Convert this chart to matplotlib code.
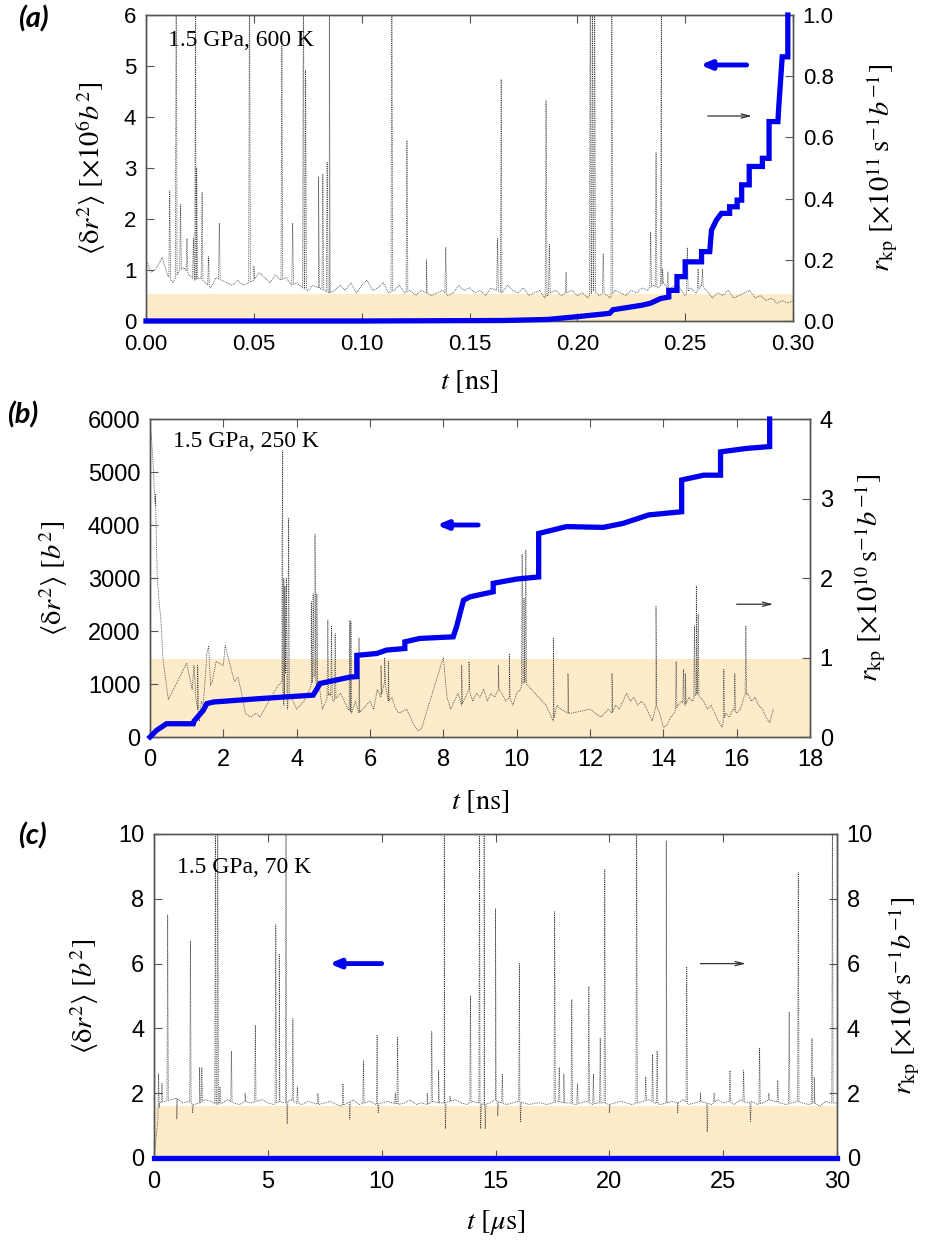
import numpy as np
import matplotlib
matplotlib.use("Agg")
import matplotlib.pyplot as plt

plt.rcParams['font.family'] = ['Liberation Sans', 'DejaVu Sans']
plt.rcParams['mathtext.fontset'] = 'stix'

# ---------------- panel (a): 1.5 GPa, 600 K ----------------
a_base_t = np.arange(0, 0.30001, 0.0025)
a_base = [1.2, 0.95, 1.05, 1.25, 0.9, 0.75, 0.95, 1.05, 0.9, 0.8, 0.85, 0.75, 0.65, 0.85, 0.8, 0.75, 0.7, 0.8, 0.7, 0.75,
          0.8, 0.95, 0.85, 0.75, 0.9, 0.8, 0.85, 0.7, 0.75, 0.65, 0.6, 0.7, 0.65, 0.6, 0.55, 0.6, 0.7, 0.6, 0.75, 0.55,
          0.7, 0.8, 0.6, 0.65, 0.75, 0.55, 0.6, 0.7, 0.55, 0.6, 0.5, 0.6, 0.55, 0.5, 0.55, 0.6, 0.5, 0.55, 0.7, 0.6,
          0.65, 0.55, 0.6, 0.5, 0.65, 0.6, 0.55, 0.7, 0.6, 0.55, 0.65, 0.5, 0.55, 0.6, 0.45, 0.55, 0.6, 0.5, 0.55, 0.6,
          0.5, 0.55, 0.45, 0.6, 0.5, 0.55, 0.45, 0.6, 0.55, 0.5, 0.6, 0.55, 0.65, 0.6, 0.7, 0.65, 0.75, 0.6, 0.7, 0.65,
          0.5, 0.65, 0.55, 0.7, 0.6, 0.45, 0.55, 0.5, 0.6, 0.45, 0.5, 0.55, 0.6, 0.45, 0.5, 0.4, 0.45, 0.35, 0.4, 0.35, 0.4]
a_base = np.array(a_base) / 6.0  # left-axis units -> r_kp units
a_spk_t = [0.011, 0.014, 0.016, 0.019, 0.022, 0.023, 0.0235, 0.026, 0.029, 0.034, 0.048, 0.050, 0.063, 0.068,
           0.073, 0.074, 0.080, 0.082, 0.084, 0.085, 0.114, 0.121, 0.130, 0.139, 0.163, 0.1647, 0.1855, 0.187,
           0.1948, 0.206, 0.207, 0.208, 0.212, 0.216, 0.234, 0.2365, 0.239, 0.2395, 0.242, 0.251, 0.256, 0.258]
a_spk_h = [0.425, 1.2, 0.38, 0.27, 0.27, 1.2, 0.5, 0.42, 0.21, 0.32, 1.2, 0.18, 0.9, 0.32,
           1.2, 0.82, 0.47, 0.48, 0.52, 1.2, 1.2, 0.59, 0.2, 0.24, 0.27, 0.79, 0.72, 0.25,
           0.16, 1.2, 1.2, 1.2, 0.22, 1.2, 0.29, 0.55, 1.2, 0.17, 0.16, 0.24, 0.17, 0.17]
a_blue_t = [0.0, 0.10, 0.166, 0.186, 0.20, 0.215, 0.2165, 0.23, 0.234, 0.2386, 0.2424, 0.2424, 0.2462, 0.2462,
            0.25, 0.25, 0.2576, 0.2576, 0.2614, 0.2622, 0.2645, 0.2668, 0.2706, 0.2706, 0.2741, 0.2741,
            0.2762, 0.2762, 0.2797, 0.2797, 0.2858, 0.2858, 0.2889, 0.2889, 0.293, 0.2934, 0.295, 0.2976, 0.2976]
a_blue = [0.0, 0.0, 0.01, 0.03, 0.085, 0.15, 0.22, 0.31, 0.35, 0.44, 0.47, 0.6, 0.6, 0.87,
          0.87, 1.16, 1.16, 1.36, 1.36, 1.78, 1.98, 2.11, 2.11, 2.24, 2.24, 2.37,
          2.37, 2.67, 2.67, 3.03, 3.03, 3.19, 3.19, 3.91, 3.91, 4.2, 5.18, 5.18, 6.0]

# ---------------- panel (b): 1.5 GPa, 250 K ----------------
b_base_t = [0.0, 0.05, 0.1, 0.12, 0.15, 0.2, 0.25, 0.3, 0.35, 0.5, 1.0, 1.15, 1.2, 1.25, 1.3, 1.35, 1.4, 1.45, 1.5,
            1.55, 1.6, 1.65, 1.7, 1.8, 2.0, 2.05, 2.3, 2.4, 2.5, 2.6, 2.75, 2.9, 3.0, 3.3, 3.5, 3.6, 3.65, 3.7,
            3.75, 3.8, 4.0, 4.2, 4.4, 4.5, 4.55, 4.6, 4.7, 4.8, 4.9, 5.0, 5.1, 5.2, 5.3, 5.4, 5.5, 5.6, 5.7, 5.8,
            6.0, 6.1, 6.2, 6.3, 6.4, 6.5, 6.6, 6.7, 6.8, 7.0, 7.1, 7.2, 7.3, 7.4, 7.5, 8.0, 8.1, 8.2, 8.3, 8.4,
            8.5, 8.6, 8.7, 8.8, 8.9, 9.0, 9.1, 9.2, 9.3, 9.4, 9.5, 9.6, 9.7, 9.8, 9.9, 10.0, 10.1, 10.2, 10.3,
            10.4, 10.5, 10.6, 10.7, 10.8, 10.9, 11.0, 11.1, 11.2, 11.4, 11.5, 12.0, 12.3, 12.5, 12.6, 12.7, 12.8,
            13.0, 13.1, 13.2, 13.3, 13.4, 13.5, 13.6, 13.7, 13.8, 13.9, 14.0, 14.1, 14.2, 14.3, 14.4, 14.5, 14.6,
            14.7, 14.8, 14.9, 15.0, 15.1, 15.2, 15.3, 15.4, 15.5, 15.6, 15.7, 15.8, 15.9, 16.0, 16.1, 16.2, 16.3,
            16.4, 16.5, 16.6, 16.7, 16.8, 16.9, 17.0]
b_base = [4.0, 3.7, 3.3, 3.05, 2.9, 2.0, 1.7, 1.45, 1.0, 0.47, 0.93, 0.6, 0.9, 0.5, 0.35, 0.2, 0.45, 0.4, 0.7,
          1.05, 1.15, 0.65, 0.7, 0.95, 0.9, 1.15, 0.7, 0.75, 0.55, 0.3, 0.25, 0.3, 0.25, 0.5, 0.65, 0.7, 0.4, 0.8,
          0.35, 0.55, 0.35, 0.45, 0.65, 0.8, 0.6, 0.7, 0.35, 0.45, 0.55, 0.45, 0.5, 0.55, 0.45, 0.35, 0.3, 0.45, 0.3, 0.35,
          0.45, 0.35, 0.6, 0.5, 0.7, 0.45, 0.5, 0.35, 0.3, 0.35, 0.25, 0.15, 0.08, 0.1, 0.25, 1.0, 0.5, 0.35, 0.45, 0.55,
          0.4, 0.5, 0.6, 0.45, 0.55, 0.5, 0.6, 0.45, 0.55, 0.5, 0.6, 0.55, 0.45, 0.5, 0.4, 0.55, 0.6, 0.7, 0.65,
          0.6, 0.55, 0.5, 0.45, 0.4, 0.3, 0.2, 0.4, 0.35, 0.3, 0.3, 0.35, 0.25, 0.35, 0.3, 0.4, 0.35,
          0.55, 0.45, 0.5, 0.4, 0.45, 0.4, 0.3, 0.2, 0.4, 0.3, 0.12, 0.15, 0.25, 0.3, 0.4, 0.45, 0.4,
          0.5, 0.45, 0.55, 0.5, 0.45, 0.35, 0.4, 0.3, 0.2, 0.12, 0.3, 0.25, 0.35, 0.3, 0.35, 0.5, 0.55,
          0.45, 0.5, 0.4, 0.35, 0.25, 0.18, 0.35]
b_spk_t = [0.15, 1.2, 1.3, 3.6, 3.62, 3.65, 3.68, 3.72, 3.78, 4.4, 4.45, 4.5, 4.55, 4.85, 4.95, 5.05, 5.45, 5.48,
           5.7, 6.3, 6.4, 6.5, 8.5, 8.7, 9.5, 9.8, 10.15, 10.2, 10.25, 11.0, 11.4, 12.6, 13.8, 14.35, 14.55,
           14.6, 14.85, 14.9, 14.95, 15.65, 15.95, 16.25]
b_spk_h = [3.05, 0.9, 0.9, 2.4, 3.6, 2.0, 1.9, 2.0, 2.75, 1.7, 1.8, 2.55, 1.8, 1.47, 1.4, 1.3, 1.47, 1.45,
           1.25, 0.9, 1.0, 0.95, 0.9, 0.95, 0.9, 1.05, 2.3, 1.75, 2.35, 1.25, 0.8, 0.8, 1.65, 0.95, 0.85,
           0.8, 1.4, 1.9, 1.55, 0.85, 0.8, 1.4]
b_blue_t = [0.0, 0.18, 0.45, 1.18, 1.2, 1.3, 1.45, 1.55, 1.73, 2.9, 4.45, 4.64, 5.45, 5.64, 5.64, 6.18, 6.45,
            6.95, 6.95, 7.36, 8.27, 8.36, 8.55, 8.73, 9.36, 9.36, 10.0, 10.6, 10.6, 11.36, 12.36, 12.9, 13.6,
            14.5, 14.5, 15.1, 15.56, 15.56, 16.27, 16.9, 16.9]
b_blue = [0, 126, 250, 250, 300, 380, 500, 630, 660, 720, 790, 1010, 1130, 1140, 1540, 1575, 1640,
          1670, 1795, 1860, 1890, 2080, 2580, 2645, 2740, 2900, 2980, 3020, 3840, 3970, 3955, 4030, 4190,
          4250, 4850, 4940, 4940, 5380, 5445, 5480, 6000]

# ---------------- panel (c): 1.5 GPa, 70 K ----------------
c_base_t = np.arange(0, 30.001, 0.25)
c_base = [0.0, 1.7, 1.75, 1.8, 1.85, 1.7, 1.75, 1.65, 1.7, 1.8, 1.75, 1.65, 1.7, 1.8, 1.7, 1.65, 1.75, 1.7, 1.75, 1.8,
          1.7, 1.65, 1.75, 1.7, 1.8, 1.7, 1.65, 1.75, 1.7, 1.65, 1.7, 1.75, 1.65, 1.6, 1.7, 1.8, 1.65, 1.7, 1.75, 1.65,
          1.7, 1.75, 1.7, 1.65, 1.7, 1.8, 1.65, 1.7, 1.65, 1.75, 1.7, 1.7, 1.75, 1.8, 1.7, 1.65, 1.75, 1.7, 1.65, 1.7,
          1.8, 1.7, 1.65, 1.7, 1.75, 1.7, 1.65, 1.7, 1.7, 1.65, 1.7, 1.75, 1.7, 1.7, 1.65, 1.7, 1.75, 1.65, 1.7, 1.7,
          1.65, 1.7, 1.75, 1.7, 1.65, 1.7, 1.75, 1.8, 1.7, 1.65, 1.7, 1.75, 1.7, 1.8, 1.65, 1.7, 1.75, 1.7, 1.65, 1.8,
          1.7, 1.75, 1.65, 1.8, 1.7, 1.75, 1.65, 1.7, 1.8, 1.75, 1.7, 1.65, 1.7, 1.75, 1.7, 1.65, 1.7, 1.6, 1.75, 1.7,
          1.7]
c_spk_t = [0.2, 0.35, 0.6, 1.0, 1.6, 1.7, 2.0, 2.1, 2.7, 2.8, 2.9, 3.4, 4.0, 4.45, 5.35, 5.5, 5.8, 5.85, 6.1,
           6.3, 7.2, 8.3, 8.6, 9.2, 9.8, 9.85, 10.6, 10.7, 12.0, 12.2, 12.5, 12.75, 12.8, 13.0, 13.9, 14.3, 14.35,
           14.5, 14.55, 15.0, 15.1, 15.3, 16.05, 16.1, 17.6, 17.8, 18.0, 18.35, 18.6, 19.1, 19.3, 19.6, 19.8,
           20.0, 21.2, 21.6, 21.9, 22.1, 22.5, 23.0, 23.4, 24.0, 24.3, 24.6, 25.3, 25.9, 26.2, 26.6, 27.0, 27.4,
           27.9, 28.3, 28.9, 29.0, 29.8]
c_spk_h = [2.6, 2.3, 7.5, 1.2, 6.7, 1.4, 2.8, 2.8, 11, 11, 2.2, 3.3, 2.0, 4.1, 7.2, 6.3, 11, 1.05, 4.3,
           2.2, 2.0, 2.3, 1.2, 3.0, 3.8, 1.4, 2.0, 3.75, 2.0, 3.9, 2.7, 11, 0.9, 1.9, 5.0, 11, 0.9,
           11, 0.9, 7.7, 1.3, 2.6, 6.0, 1.1, 7.6, 2.8, 2.6, 4.9, 2.3, 5.3, 2.6, 3.7, 8.9,
           1.4, 11, 2.5, 3.2, 3.3, 9.8, 1.4, 5.9, 2.0, 0.8, 2.0, 2.7, 2.7, 1.1, 3.4, 2.0, 2.4,
           4.5, 8.8, 3.7, 2.5, 11]
c_blue_t = [0.0, 30.0]
c_blue = [0.0, 0.0]

shade = '#fdebc9'
blue = '#0000ee'


def with_spikes(t, v, st, sh, eps):
    t = np.asarray(t, float)
    v = np.asarray(v, float)
    st = np.asarray(st, float)
    sh = np.asarray(sh, float)
    b0 = np.interp(st - eps, t, v)
    b1 = np.interp(st + eps, t, v)
    tt = np.concatenate([t, st - eps, st, st + eps])
    vv = np.concatenate([v, b0, sh, b1])
    order = np.argsort(tt, kind='stable')
    return tt[order], vv[order]


def panel(rect, xlim, xticks, xfmt, ylim, yticks, ylim2, yticks2, y2fmt,
          base, spikes, bluedata, band, eps, ylab, y2lab, xlab, note, notepos, tag, tagpos,
          arrow_blue, arrow_black, labcoords, tsize):
    ax = fig.add_axes(rect)
    ax2 = ax.twinx()
    ax.set_zorder(ax2.get_zorder() + 1)
    ax.patch.set_visible(False)

    ax2.axhspan(0, band, color=shade, lw=0, zorder=0)
    tt, vv = with_spikes(base[0], base[1], spikes[0], spikes[1], eps)
    ax2.plot(tt, vv, color='#3a3a3a', lw=0.6, ls=(0, (1, 1.2)), zorder=2)
    ax.plot(bluedata[0], bluedata[1], color=blue, lw=3.8, solid_joinstyle='miter', clip_on=False, zorder=3)

    ax.set_xlim(*xlim)
    ax.set_ylim(*ylim)
    ax2.set_ylim(*ylim2)
    ax.set_xticks(xticks)
    ax.set_xticklabels([xfmt.format(x) for x in xticks])
    ax.set_yticks(yticks)
    ax2.set_yticks(yticks2)
    ax2.set_yticklabels([y2fmt.format(y) for y in yticks2])

    for a in (ax, ax2):
        for s in a.spines.values():
            s.set_color('#555555')
            s.set_linewidth(1.0)
    ax.tick_params(axis='y', direction='in', length=6, width=0.8, color='#555555',
                   labelsize=tsize, right=False, pad=7)
    ax.tick_params(axis='x', direction='in', length=6, width=0.8, color='#555555',
                   labelsize=tsize, top=True, pad=9)
    ax2.tick_params(axis='y', direction='in', length=6, width=0.8, color='#555555',
                    labelsize=tsize, pad=7)

    ax.set_ylabel(ylab, fontsize=20.5)
    ax2.set_ylabel(y2lab, fontsize=20.5, rotation=90)
    ax.set_xlabel(xlab, fontsize=20.5)
    ax.yaxis.set_label_coords(*labcoords[0])
    ax2.yaxis.set_label_coords(*labcoords[1])
    ax.xaxis.set_label_coords(*labcoords[2])

    ax.text(notepos[0], notepos[1], note, transform=ax.transAxes, fontsize=17,
            family='Liberation Serif', va='center', ha='left')
    fig.text(tagpos[0], tagpos[1], tag, fontsize=21, fontweight='bold', style='italic',
             family='Lato', ha='center', va='center')

    ax.annotate('', xy=arrow_blue[0], xytext=arrow_blue[1],
                arrowprops=dict(arrowstyle='-|>,head_length=0.6,head_width=0.25', color=blue, lw=3.5,
                                shrinkA=0, shrinkB=0))
    ax2.annotate('', xy=arrow_black[1], xytext=arrow_black[0],
                 arrowprops=dict(arrowstyle='->,head_length=0.6,head_width=0.15', color='#333333', lw=0.9,
                                 shrinkA=0, shrinkB=0))
    return ax, ax2


W, H = 938, 1243
fig = plt.figure(figsize=(W / 100, H / 100), dpi=100)


def r(l, rgt, top, bot):
    return [l / W, 1 - bot / H, (rgt - l) / W, (bot - top) / H]


panel(r(146, 793, 15, 321), (0, 0.30), [0, 0.05, 0.10, 0.15, 0.20, 0.25, 0.30], '{:.2f}',
      (0, 6), range(0, 7), (0, 1.0), [0, 0.2, 0.4, 0.6, 0.8, 1.0], '{:.1f}',
      (a_base_t, a_base), (a_spk_t, a_spk_h), (a_blue_t, a_blue), 0.088, 0.0004,
      r'$\langle\mathrm{\delta} r^2\rangle\ [\times10^6 b^2]$',
      r'$r_{\mathrm{kp}}\ [\times10^{11}\,\mathrm{s}^{-1}b^{-1}]$',
      r'$t\ [\mathrm{ns}]$', '1.5 GPa, 600 K', (0.034, 0.918), '(a)', (33 / W, 1 - 19 / H),
      ((0.257, 5.02), (0.2785, 5.02)), ((0.2605, 0.67), (0.281, 0.67)),
      ((-0.059, 0.5), (1.111, 0.5), (0.5, -0.154)), 16)

panel(r(150, 810, 419, 737), (0, 18), range(0, 19, 2), '{:d}',
      (0, 6000), range(0, 6001, 1000), (0, 4), range(0, 5), '{:d}',
      (b_base_t, b_base), (b_spk_t, b_spk_h), (b_blue_t, b_blue), 0.975, 0.02,
      r'$\langle\mathrm{\delta} r^2\rangle\ [b^2]$',
      r'$r_{\mathrm{kp}}\ [\times10^{10}\,\mathrm{s}^{-1}b^{-1}]$',
      r'$t\ [\mathrm{ns}]$', '1.5 GPa, 250 K', (0.035, 0.928), '(b)', (23 / W, 1 - 415 / H),
      ((7.82, 4000), (8.95, 4000)), ((16.0, 1.67), (17.0, 1.67)),
      ((-0.121, 0.5), (1.065, 0.5), (0.5, -0.16)), 17)

panel(r(154, 837, 834, 1158), (0, 30), range(0, 31, 5), '{:d}',
      (0, 10), range(0, 11, 2), (0, 10), range(0, 11, 2), '{:d}',
      (c_base_t, c_base), (c_spk_t, c_spk_h), (c_blue_t, c_blue), 1.62, 0.03,
      r'$\langle\mathrm{\delta} r^2\rangle\ [b^2]$',
      r'$r_{\mathrm{kp}}\ [\times10^{4}\,\mathrm{s}^{-1}b^{-1}]$',
      r'$t\ [\mu\mathrm{s}]$', '1.5 GPa, 70 K', (0.033, 0.898), '(c)', (32 / W, 1 - 836 / H),
      ((7.7, 6), (10.0, 6)), ((24.0, 6), (26.0, 6)),
      ((-0.077, 0.5), (1.073, 0.5), (0.5, -0.155)), 17)

fig.savefig('out.png', dpi=100)
